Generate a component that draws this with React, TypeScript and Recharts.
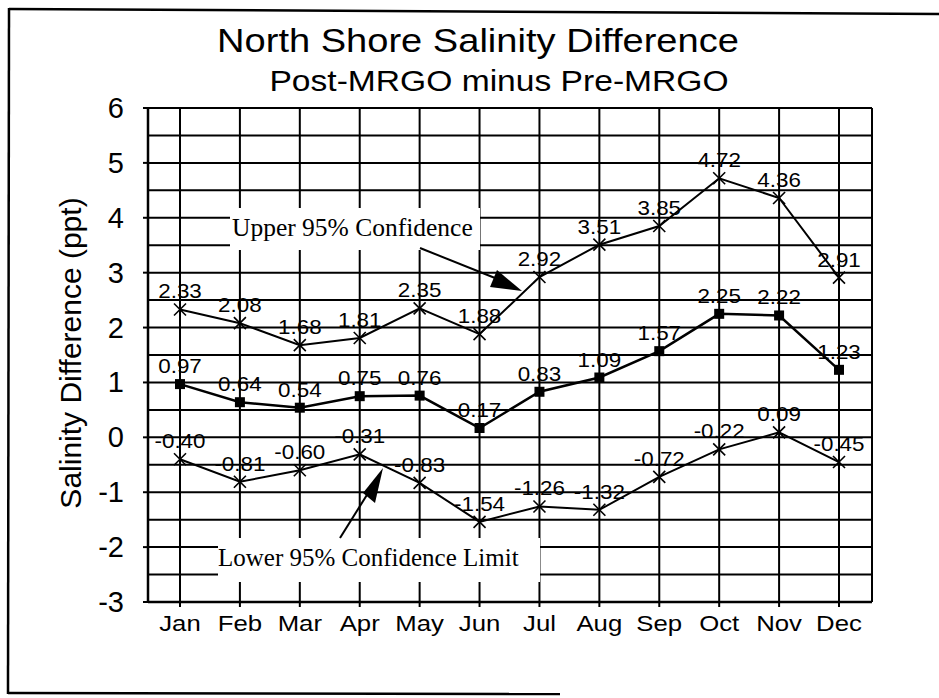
import React from "react";
import { CartesianGrid, LabelList, Line, LineChart, XAxis, YAxis } from "recharts";

const months = ["Jan", "Feb", "Mar", "Apr", "May", "Jun", "Jul", "Aug", "Sep", "Oct", "Nov", "Dec"];
const upper95 = [2.33, 2.08, 1.68, 1.81, 2.35, 1.88, 2.92, 3.51, 3.85, 4.72, 4.36, 2.91];
const meanDiff = [0.97, 0.64, 0.54, 0.75, 0.76, 0.17, 0.83, 1.09, 1.57, 2.25, 2.22, 1.23];
const lower95 = [-0.4, -0.81, -0.6, -0.31, -0.83, -1.54, -1.26, -1.32, -0.72, -0.22, 0.09, -0.45];
const gridTicks = [-3, -2.5, -2, -1.5, -1, -0.5, 0, 0.5, 1, 1.5, 2, 2.5, 3, 3.5, 4, 4.5, 5, 5.5, 6];

const data = months.map((month, i) => ({
  month,
  upper: upper95[i],
  mean: meanDiff[i],
  lower: lower95[i],
}));

const SANS = "'Liberation Sans', Arial, sans-serif";
const SERIF = "'Liberation Serif', 'Times New Roman', serif";
const SX = 1.12; // scan looks a bit wide

function SText({ x, y, size, anchor = "middle", sx = SX, children }: any) {
  return (
    <text
      transform={`translate(${x},${y}) scale(${sx},1)`}
      textAnchor={anchor}
      fontFamily={SANS}
      fontSize={size}
      fill="#000"
    >
      {children}
    </text>
  );
}

const crossDot = (props: any) => {
  const { cx, cy, index } = props;
  if (cx == null || cy == null) return <g key={`x-${index}`} />;
  const r = 6;
  return (
    <g key={`x-${index}`}>
      <line x1={cx - r} y1={cy - r} x2={cx + r} y2={cy + r} stroke="#000" strokeWidth={1.6} />
      <line x1={cx - r} y1={cy + r} x2={cx + r} y2={cy - r} stroke="#000" strokeWidth={1.6} />
    </g>
  );
};

const squareDot = (props: any) => {
  const { cx, cy, index } = props;
  if (cx == null || cy == null) return <g key={`s-${index}`} />;
  return <rect key={`s-${index}`} x={cx - 5} y={cy - 5} width={10} height={10} fill="#000" />;
};

const valueLabel = (props: any) => {
  const { x, y, value, index } = props;
  return (
    <g key={`l-${index}`}>
      <SText x={x} y={y - 11} size={20}>
        {Number(value).toFixed(2)}
      </SText>
    </g>
  );
};

const xTick = (props: any) => {
  const { x, y, payload } = props;
  return (
    <SText x={x} y={y + 22} size={23}>
      {payload.value}
    </SText>
  );
};

const yTick = (props: any) => {
  const { x, y, payload } = props;
  if (!Number.isInteger(payload.value)) return <g />;
  return (
    <g>
      <line x1={x + 19} x2={x + 25} y1={y} y2={y} stroke="#000" strokeWidth={2} />
      <text x={x} y={y + 10} textAnchor="end" fontFamily={SANS} fontSize={29} fill="#000">
        {payload.value}
      </text>
    </g>
  );
};

const yLabel = () => (
  <text
    transform="translate(70,353) rotate(-90)"
    textAnchor="middle"
    dominantBaseline="central"
    fontFamily={SANS}
    fontSize={30}
    fill="#000"
  >
    Salinity Difference (ppt)
  </text>
);

export default function App() {
  return (
    <div style={{ position: "absolute", left: 0, top: 0, width: 939, height: 698, background: "#fff" }}>
      <LineChart
        width={939}
        height={698}
        data={data}
        margin={{ top: 108, right: 67, bottom: 56, left: 0 }}
        accessibilityLayer={false}
      >
        <CartesianGrid stroke="#000" strokeWidth={2} />
        <XAxis
          dataKey="month"
          height={40}
          padding={{ left: 32, right: 33 }}
          tickSize={5}
          tickLine={{ stroke: "#000", strokeWidth: 2 }}
          axisLine={{ stroke: "#000", strokeWidth: 2.5 }}
          tick={xTick}
          interval={0}
        />
        <YAxis
          width={148}
          domain={[-3, 6]}
          ticks={gridTicks}
          interval={0}
          tickSize={5}
          tickMargin={19}
          tickLine={false}
          axisLine={{ stroke: "#000", strokeWidth: 2.5 }}
          tick={yTick}
          label={yLabel}
        />
        <YAxis
          yAxisId="right"
          orientation="right"
          width={0}
          domain={[-3, 6]}
          tick={false}
          tickLine={false}
          axisLine={{ stroke: "#000", strokeWidth: 2.5 }}
        />
        <Line
          dataKey="upper"
          stroke="#000"
          strokeWidth={2}
          dot={crossDot}
          activeDot={false}
          isAnimationActive={false}
        >
          <LabelList dataKey="upper" content={valueLabel} />
        </Line>
        <Line
          dataKey="mean"
          stroke="#000"
          strokeWidth={2.5}
          dot={squareDot}
          activeDot={false}
          isAnimationActive={false}
        >
          <LabelList dataKey="mean" content={valueLabel} />
        </Line>
        <Line
          dataKey="lower"
          stroke="#000"
          strokeWidth={2}
          dot={crossDot}
          activeDot={false}
          isAnimationActive={false}
        >
          <LabelList dataKey="lower" content={valueLabel} />
        </Line>
      </LineChart>

      <svg
        width={939}
        height={698}
        style={{ position: "absolute", left: 0, top: 0, pointerEvents: "none" }}
      >
        {/* scan frame */}
        <line x1={9} y1={9} x2={939} y2={14} stroke="#000" strokeWidth={2.5} />
        <line x1={9} y1={8} x2={8} y2={694} stroke="#000" strokeWidth={2.5} />
        <line x1={8} y1={693} x2={560} y2={694} stroke="#000" strokeWidth={2.5} />

        <SText x={478} y={52} size={34}>North Shore Salinity Difference</SText>
        <SText x={499} y={91} size={30}>Post-MRGO minus Pre-MRGO</SText>

        {/* upper annotation */}
        <rect x={230} y={208} width={250} height={42} fill="#fff" />
        <text x={232} y={236} fontFamily={SERIF} fontSize={25.5} fill="#000">
          Upper 95% Confidence
        </text>
        <line x1={420} y1={248} x2={495} y2={278} stroke="#000" strokeWidth={2} />
        <polygon points="497,270 490,287 522,291" fill="#000" />

        {/* lower annotation */}
        <rect x={218} y={538} width={322} height={44} fill="#fff" />
        <text x={218} y={566} fontFamily={SERIF} fontSize={25} fill="#000">
          Lower 95% Confidence Limit
        </text>
        <line x1={340} y1={538} x2={370} y2={490} stroke="#000" strokeWidth={2} />
        <polygon points="363,493 375,503 383,468" fill="#000" />
      </svg>
    </div>
  );
}
